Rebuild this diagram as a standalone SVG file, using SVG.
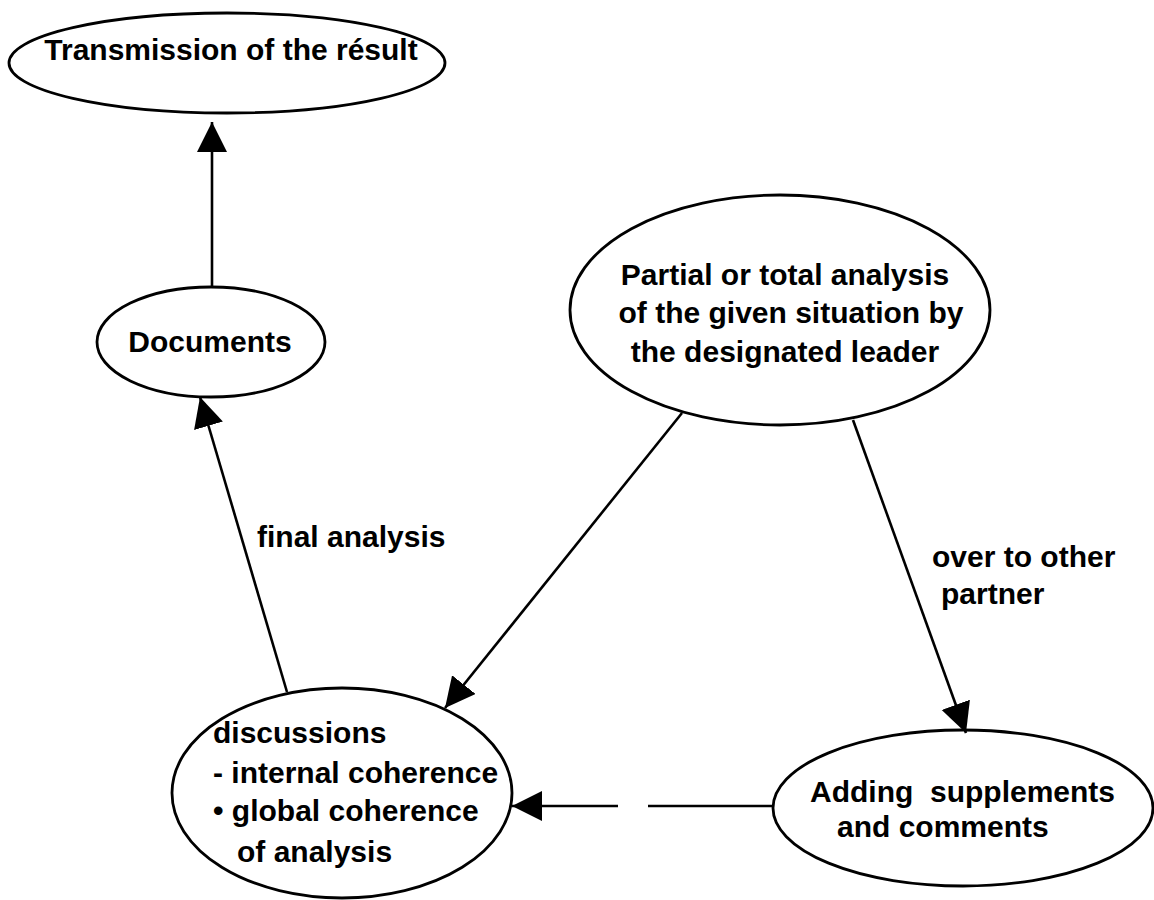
<svg xmlns="http://www.w3.org/2000/svg" width="1154" height="900" viewBox="0 0 1154 900">
<style>
.node ellipse{fill:none;stroke:#000;stroke-width:2.8}
text{font-family:"Liberation Sans",Arial,Helvetica,sans-serif;font-weight:bold;font-size:30px;fill:#000}
.c{text-anchor:middle}
.edge{fill:none;stroke:#000;stroke-width:2.6;marker-end:url(#ah)}
</style>
<defs>
<marker id="ah" markerUnits="userSpaceOnUse" markerWidth="32" markerHeight="32" refX="30" refY="15" orient="auto">
<path d="M0,0 L30,15 L0,30 z" fill="#000"/>
</marker>
</defs>
<rect width="1154" height="900" fill="#fff"/>
<g id="connectors">
<path class="edge" d="M212,287 L212,122"/>
<path class="edge" d="M287,692 L200,397"/>
<path class="edge" d="M682,413 L445,708"/>
<path class="edge" d="M853,420 L966,733"/>
<path class="edge" d="M773,806 H648 M618,806 H512"/>
</g>
<g id="transmission" class="node">
<ellipse cx="227" cy="63" rx="218" ry="50"/>
<text x="231" y="60" class="c">Transmission of the résult</text>
</g>
<g id="documents" class="node">
<ellipse cx="211" cy="342" rx="114" ry="55"/>
<text x="210" y="352" class="c">Documents</text>
</g>
<g id="analysis" class="node">
<ellipse cx="780" cy="310" rx="210" ry="115"/>
<text x="785" y="285" class="c">Partial or total analysis</text>
<text x="791" y="323" class="c">of the given situation by</text>
<text x="785" y="362" class="c">the designated leader</text>
</g>
<g id="discussions" class="node">
<ellipse cx="342" cy="793" rx="170" ry="105"/>
<text x="213" y="743">discussions</text>
<text x="213" y="783">- internal coherence</text>
<text x="213" y="821">• global coherence</text>
<text x="237" y="862">of analysis</text>
</g>
<g id="adding" class="node">
<ellipse cx="963" cy="808" rx="190" ry="78"/>
<text x="810" y="802" xml:space="preserve">Adding  supplements</text>
<text x="837" y="837">and comments</text>
</g>
<g id="labels">
<text x="257" y="547">final analysis</text>
<text x="932" y="567">over to other</text>
<text x="941" y="604">partner</text>
</g>
</svg>
